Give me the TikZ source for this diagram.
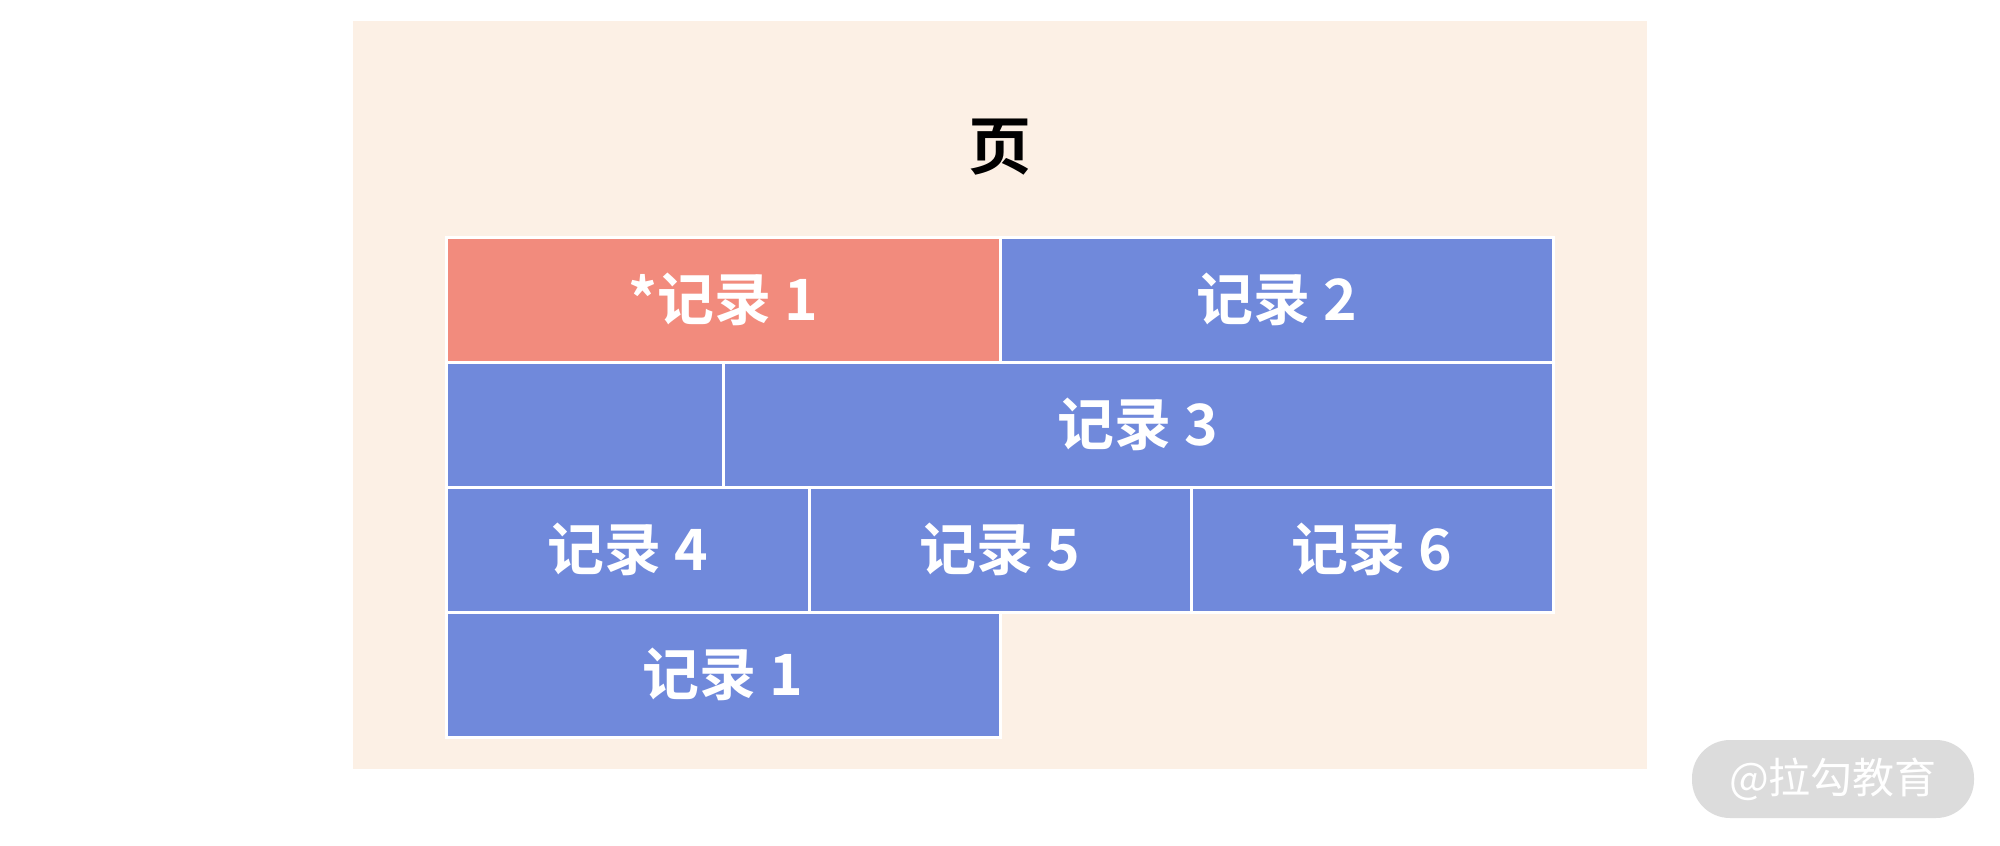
\documentclass[tikz,border=0pt]{standalone}
\usepackage{fontspec}
\newfontfamily\cjkb{Noto Sans CJK SC Bold}
\newfontfamily\cjk{Noto Sans CJK SC}
\definecolor{pagebg}{RGB}{252,240,229}
\definecolor{recred}{RGB}{242,139,125}
\definecolor{recblue}{RGB}{112,137,219}
\definecolor{pillgray}{RGB}{220,220,220}
\tikzset{
  cell/.style={draw=white, line width=3pt, inner sep=0pt, outer sep=0pt, anchor=north west,
    text=white, font=\cjkb\fontsize{57}{60}\selectfont, fill=recblue, minimum height=125pt},
  hot/.style={fill=recred},
}
\begin{document}
\begin{tikzpicture}[x=1pt,y=-1pt]
\useasboundingbox (0,0) rectangle (2000,846);
\fill[white] (0,0) rectangle (2000,846);
\fill[pagebg] (353,21) rectangle (1647,769);
\node[font=\cjkb\fontsize{63}{66}\selectfont, text=black] (title) at (1000,147) {页};
% row 1
\node[cell, hot, minimum width=554pt] (r1) at (446,237) {*记录 1};
\node[cell, minimum width=553pt] (r2) at (1000,237) {记录 2};
% row 2
\node[cell, minimum width=277pt] (r3a) at (446,362) {};
\node[cell, minimum width=830pt] (r3) at (723,362) {记录 3};
% row 3
\node[cell, minimum width=363pt] (r4) at (446,487) {记录 4};
\node[cell, minimum width=382pt] (r5) at (809,487) {记录 5};
\node[cell, minimum width=362pt] (r6) at (1191,487) {记录 6};
% row 4
\node[cell, minimum width=554pt] (r1b) at (446,612) {记录 1};
% watermark
\node[fill=pillgray, rounded corners=38pt, minimum width=282pt, minimum height=78pt, inner sep=0pt,
  text=white, font=\cjk\fontsize{42}{44}\selectfont] (wm) at (1833,779) {@拉勾教育};
\end{tikzpicture}
\end{document}
